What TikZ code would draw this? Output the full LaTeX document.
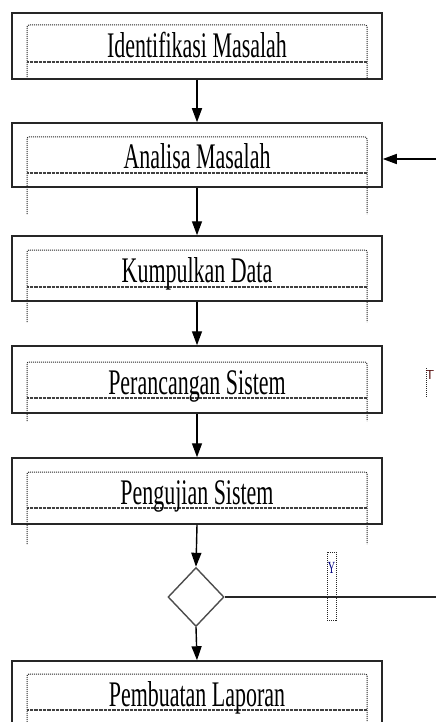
\documentclass[tikz,border=0pt]{standalone}
\usepackage{fontspec}
\setmainfont{Liberation Serif}
\usetikzlibrary{arrows.meta,shapes.geometric}
\begin{document}
\begin{tikzpicture}[x=1pt,y=-1pt,
 mainbox/.style={draw=black!85,line width=1.5pt,minimum width=370pt,inner sep=0pt,rectangle},
 lbl/.style={anchor=base,inner sep=0pt,font=\fontsize{36}{40}\selectfont},
 frame/.style={densely dotted,line width=1pt,black!85},
 hatch/.style={line width=2.6pt,dash pattern=on 0.7pt off 0.6pt,black!75},
 flow/.style={line width=1.4pt,-{Triangle[length=14pt,width=10pt]}},
 ]
\useasboundingbox (0,0) rectangle (436,722);
\clip (0,0) rectangle (436,722);
\foreach \n/\t/\b/\dt/\h/\v/\txt in {
  1/13/79/25/62/79/Identifikasi Masalah,
  2/123/187/137/173/214/Analisa Masalah,
  3/236/301/250/287/322/Kumpulkan Data,
  4/346/413/362/398/421/Perancangan Sistem,
  5/458/524/472/508/544/Pengujian Sistem,
  6/661/727/674/710/740/Pembuatan Laporan}{
  \node[mainbox,minimum height={(\b-\t)*1pt}] (b\n) at (197,{(\t+\b)/2}) {};
  \draw[frame,rounded corners=2pt] (27,\v) -- (27,\dt) -- (367,\dt) -- (367,\v);
  \draw[hatch] (27,\h) -- (367,\h);
  \node[lbl] (t\n) at (197,{(\dt+\h)/2+14}) {\scalebox{0.61}[1]{\txt}};
}
\node[diamond,aspect=1,draw=black!70,line width=1.4pt,minimum width=56pt,minimum height=59pt,inner sep=0pt] (d) at (196,597) {};
\draw[flow] (b1.south) -- (b2.north);
\draw[flow] (b2.south) -- (b3.north);
\draw[flow] (b3.south) -- (b4.north);
\draw[flow] (b4.south) -- (b5.north);
\draw[flow] (b5.south) -- (d.north);
\draw[flow] (d.south) -- (b6.north);
\coordinate (r1) at (436,597);
\draw[line width=1.4pt,black!85] (d.east) -- (r1);
\coordinate (r2) at (436,159);
\draw[flow] (r2) -- (r2 -| b2.east);
\draw[frame] (327,552) rectangle (336,620);
\node[inner sep=0pt,font=\fontsize{17}{17}\selectfont,text=black!50!blue] (y) at (331.5,568) {\scalebox{0.6}[1]{Y}};
\draw[frame] (426,368) -- (426,398);
\node[inner sep=0pt,font=\sffamily\fontsize{13}{13}\selectfont,text=black!70!red] (tl) at (430,375) {T};
\end{tikzpicture}
\end{document}
